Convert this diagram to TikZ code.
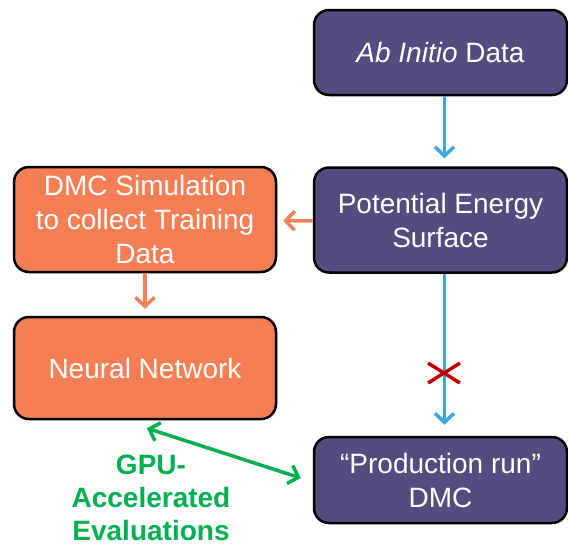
\documentclass[tikz,border=0pt]{standalone}
\usepackage{fontspec}
\setmainfont{Liberation Sans}
\usetikzlibrary{arrows.meta}
\definecolor{boxpurple}{RGB}{84,76,126}
\definecolor{boxorange}{RGB}{246,126,84}
\definecolor{arrowblue}{RGB}{58,168,220}
\definecolor{crossred}{RGB}{192,0,0}
\definecolor{evalgreen}{RGB}{0,176,80}
\tikzset{
  flowbox/.style={draw=black, line width=2.5pt, rounded corners=15pt, align=center,
    text=white, inner sep=0pt, font=\fontsize{28}{34}\selectfont},
  purplebox/.style={flowbox, fill=boxpurple, minimum width=253pt},
  orangebox/.style={flowbox, fill=boxorange, minimum width=262pt},
  conn/.style={line width=3.5pt, -{Straight Barb[length=9pt,width=19pt,line width=3.5pt]}},
  blueconn/.style={conn, draw=arrowblue},
  orangeconn/.style={conn, draw=boxorange},
  greenconn/.style={line width=3.5pt, draw=evalgreen,
    {Straight Barb[length=9pt,width=19pt,line width=3.5pt]}-{Straight Barb[length=9pt,width=19pt,line width=3.5pt]}},
  greenlabel/.style={text=evalgreen, align=center, font=\bfseries\fontsize{28}{33}\selectfont}
}
\begin{document}
\begin{tikzpicture}[x=1pt,y=-1pt]
\useasboundingbox (0,0) rectangle (568,547);
\node[purplebox, minimum height=85pt] (ab) at (440.5,52.5) {\textit{Ab Initio} Data};
\node[purplebox, minimum height=105pt] (pes) at (440.5,220) {Potential Energy\\Surface};
\node[orangebox, minimum height=105pt] (sim) at (145,219.5) {DMC Simulation\\to collect Training\\Data};
\node[orangebox, minimum height=102pt] (nn) at (145,368) {Neural Network};
\node[purplebox, minimum height=86pt] (prod) at (440.5,480) {“Production run”\\DMC};
\node[greenlabel] (gpu) at (151,498) {GPU-\\Accelerated\\Evaluations};

\draw[blueconn, shorten >=8pt] ([xshift=4pt]ab.south) -- ([xshift=4pt]pes.north);
\draw[blueconn, shorten >=11pt] ([xshift=4pt]pes.south) -- ([xshift=4pt]prod.north);
\draw[orangeconn, shorten >=6pt] ([yshift=-1pt]pes.west) -- ([yshift=-1pt]sim.east);
\draw[orangeconn, shorten >=7pt] (sim.south) -- (nn.north);
\draw[greenconn] ([xshift=2pt,yshift=-8pt]nn.south) -- ([xshift=-12pt,yshift=2pt]prod.west);

\coordinate (xmark) at (444,373);
\draw[crossred, line width=3.5pt] ([shift={(-16,-10)}]xmark) -- ([shift={(16,10)}]xmark)
  ([shift={(-16,10)}]xmark) -- ([shift={(16,-10)}]xmark);
\end{tikzpicture}
\end{document}
